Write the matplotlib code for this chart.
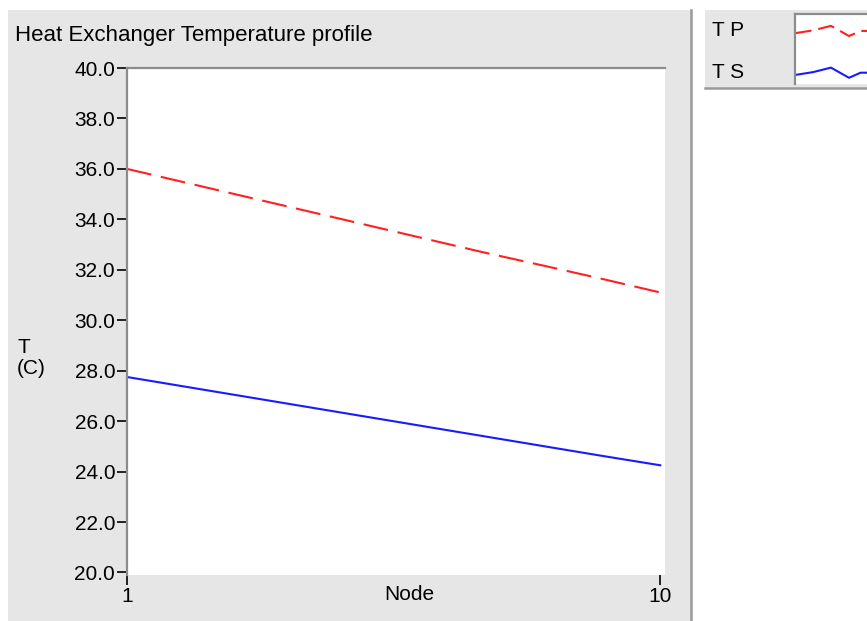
import matplotlib.pyplot as plt
from matplotlib.patches import Rectangle
from matplotlib.lines import Line2D

# ------------------------------------------------------------
# Data
# ------------------------------------------------------------

nodes = [1, 2, 3, 4, 5, 6, 7, 8, 9, 10]
tp = [36.0, 35.45, 34.9, 34.35, 33.8, 33.25, 32.7, 32.18, 31.65, 31.1]
ts = [27.75, 27.36, 26.97, 26.58, 26.19, 25.8, 25.41, 25.02, 24.63, 24.25]

y_ticks = [20.0, 22.0, 24.0, 26.0, 28.0, 30.0, 32.0, 34.0, 36.0, 38.0, 40.0]
x_ticks = [1, 10]

# zigzag shape used by the legend swatches
legend_sample_x = [0, 1.4, 2.8, 4.2, 5.1, 5.6]
legend_sample_y = [0.0, 0.25, 0.65, -0.25, 0.2, 0.2]

plt.rcParams["font.family"] = ["Liberation Sans", "DejaVu Sans"]
plt.rcParams["lines.scale_dashes"] = False

W, H = 867, 621
fig = plt.figure(figsize=(W / 100, H / 100), dpi=100)
fig.patch.set_facecolor("white")

panel = "#e6e6e6"


def fx(px):
    return px / W


def fy(py):
    return 1 - py / H


# graph panel background
fig.patches.append(Rectangle((fx(8), 0), fx(683), fy(10), transform=fig.transFigure,
                             facecolor=panel, edgecolor="none", zorder=-5))
fig.add_artist(Line2D([fx(691), fx(691)], [0, fy(10)], transform=fig.transFigure,
                      color="#9a9a9a", lw=1.8, zorder=-4))

# legend panel background
fig.patches.append(Rectangle((fx(705), fy(88)), fx(162), fy(10) - fy(88),
                             transform=fig.transFigure, facecolor=panel,
                             edgecolor="none", zorder=-5))
fig.add_artist(Line2D([fx(705), 1], [fy(88), fy(88)], transform=fig.transFigure,
                      color="#9a9a9a", lw=1.8, zorder=-4))

# ------------------------------------------------------------
# Main plot
# ------------------------------------------------------------

ax = fig.add_axes([fx(127), fy(575), fx(665) - fx(127), fy(68) - fy(575)])
ax.set_facecolor("white")

ax.plot(nodes, tp, color="#ff2020", lw=1.5, dashes=(18, 7))
ax.plot(nodes, ts, color="#1a1aff", lw=1.5)

ax.set_xlim(1, 10.08)
ax.set_ylim(19.9, 40.0)
ax.set_yticks(y_ticks)
ax.set_yticklabels([f"{v:.1f}" for v in y_ticks])
ax.set_xticks(x_ticks)
ax.set_xticklabels([str(v) for v in x_ticks])
ax.tick_params(axis="both", direction="out", length=7, width=1.2, labelsize=15,
               pad=1.5, color="black")

for side in ["right", "bottom"]:
    ax.spines[side].set_visible(False)
for side in ["left", "top"]:
    ax.spines[side].set_color("#8c8c8c")
    ax.spines[side].set_linewidth(1.6)

fig.text(fx(15), fy(35), "Heat Exchanger Temperature profile", fontsize=16,
         ha="left", va="center")
fig.text(fx(17), fy(358), "T\n(C)", fontsize=15, ha="left", va="center",
         linespacing=1.15)
fig.text(fx(409), fy(595), "Node", fontsize=15, ha="center", va="center")

# ------------------------------------------------------------
# Legend
# ------------------------------------------------------------

fig.text(fx(712), fy(30), "T P", fontsize=15, ha="left", va="center")
fig.text(fx(712), fy(72), "T S", fontsize=15, ha="left", va="center")

lax = fig.add_axes([fx(795), fy(84), 1 - fx(795), fy(14) - fy(84)])
lax.set_facecolor("white")
lax.set_xlim(0, 5.6)
lax.set_ylim(-2.2, 4.0)
lax.set_xticks([])
lax.set_yticks([])
for side in ["right", "bottom"]:
    lax.spines[side].set_visible(False)
for side in ["left", "top"]:
    lax.spines[side].set_color("#8c8c8c")
    lax.spines[side].set_linewidth(1.6)

lax.plot(legend_sample_x, [v + 2.3 for v in legend_sample_y], color="#ff2020",
         lw=1.5, dashes=(12, 5))
lax.plot(legend_sample_x, [v - 1.4 for v in legend_sample_y], color="#1a1aff",
         lw=1.5)

fig.savefig("out.png", dpi=100)
